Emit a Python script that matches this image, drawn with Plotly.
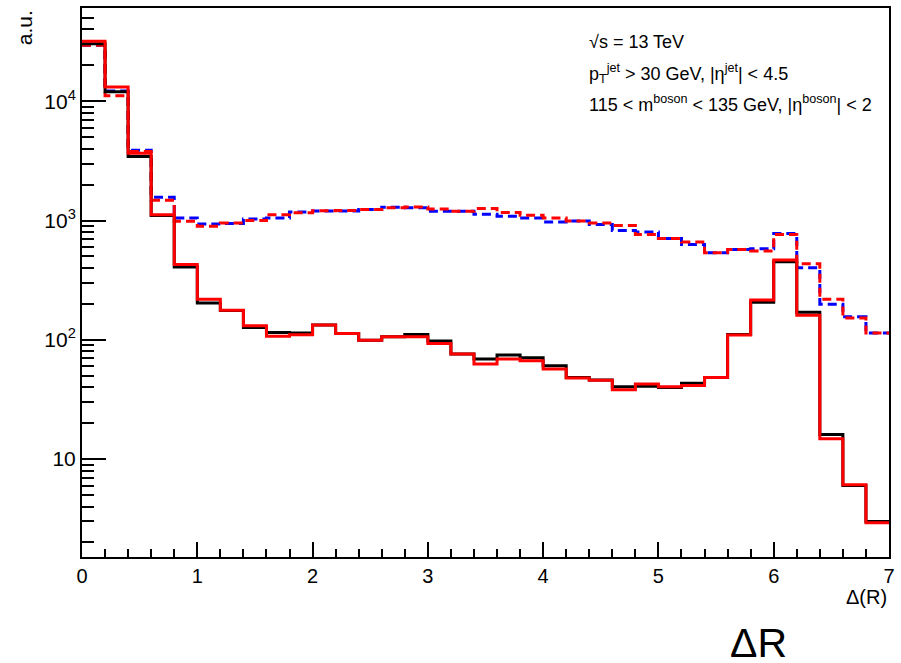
import plotly.graph_objects as go

# Bin edges (35 bins of width 0.2 from 0 to 7)
bin_edges = [round(0.2 * i, 1) for i in range(36)]

black_solid = [30300, 12000, 3440, 1100, 408, 204, 176, 127, 115, 114,
               133, 113, 99, 106, 111, 97.5, 76, 69, 74.5, 70.8,
               60.6, 48.4, 46, 40.5, 40.8, 39.8, 43.2, 48.4, 111, 206,
               451, 170, 16.1, 6.0, 3.0]
red_solid = [31900, 13200, 3670, 1120, 429, 219, 177, 131, 107, 110,
             133, 113, 99, 106, 106, 93, 76, 62.6, 69, 66.8,
             56.9, 47.9, 45.7, 38.2, 42.7, 40.5, 41.3, 48.4, 109.5, 216,
             466, 161, 14.8, 6.1, 2.92]
blue_dashed = [29500, 12200, 3890, 1570, 1052, 937, 945, 1030, 1050, 1180,
               1200, 1200, 1240, 1290, 1280, 1197, 1197, 1130, 1087, 1052,
               973, 990, 925, 825, 803, 708, 631, 537, 573, 580,
               778, 402, 199, 156, 114]
red_dashed = [29500, 11100, 3800, 1480, 986, 896, 955, 1000, 1120, 1160,
              1210, 1215, 1240, 1280, 1300, 1250, 1197, 1260, 1166, 1107,
              1052, 993, 953, 908, 764, 708, 660, 537, 573, 555,
              764, 434, 219, 152, 114]

x_ticks = [0, 1, 2, 3, 4, 5, 6, 7]
x_minor = [round(0.2 * i, 1) for i in range(36)]
y_ticks = [10, 100, 1000, 10000]
y_ticktext = ["10", "10<sup>2</sup>", "10<sup>3</sup>", "10<sup>4</sup>"]
y_minor = [k * 10 ** p for p in range(0, 5) for k in range(2, 10)]

FONT = "Liberation Sans, Arial, Helvetica, sans-serif"


def step(vals):
    return list(vals) + [vals[-1]]


fig = go.Figure()
series = [
    (blue_dashed, "#0000ff", "9px,5px"),
    (red_dashed, "#ff0000", "9px,5px"),
    (black_solid, "#000000", "solid"),
    (red_solid, "#ff0000", "solid"),
]
for vals, col, dash in series:
    fig.add_trace(go.Scatter(
        x=bin_edges, y=step(vals), mode="lines", line_shape="hv",
        line=dict(color=col, width=3, dash=dash), showlegend=False,
        hoverinfo="skip"))

fig.update_layout(
    width=901, height=663,
    margin=dict(l=82, r=10, t=6, b=106),
    paper_bgcolor="white", plot_bgcolor="white",
    font=dict(family=FONT, color="black", size=20),
    xaxis=dict(
        range=[0, 7], showgrid=False, zeroline=False,
        showline=True, linecolor="black", linewidth=2, mirror=True,
        tickmode="array", tickvals=x_ticks, ticks="inside", ticklen=15,
        tickwidth=1.5, tickcolor="black", tickfont=dict(size=20),
        minor=dict(tickmode="array", tickvals=x_minor, ticks="inside",
                   ticklen=8, tickwidth=1.5, tickcolor="black", showgrid=False),
    ),
    yaxis=dict(
        type="log", range=[0.179, 4.782], showgrid=False, zeroline=False,
        showline=True, linecolor="black", linewidth=2, mirror=True,
        tickmode="array", tickvals=y_ticks, ticktext=y_ticktext,
        ticks="inside", ticklen=24, tickwidth=1.5, tickcolor="black",
        tickfont=dict(size=21),
        minor=dict(tickmode="array", tickvals=y_minor, ticks="inside",
                   ticklen=12, tickwidth=1.5, tickcolor="black", showgrid=False),
    ),
)

fig.add_annotation(text="a.u.", xref="paper", yref="paper",
                   x=-0.071, y=1.0, xanchor="center", yanchor="top",
                   textangle=-90, showarrow=False, font=dict(size=21))
fig.add_annotation(text="Δ(R)", xref="paper", yref="paper",
                   x=1.0, y=-0.05, xanchor="right", yanchor="top",
                   showarrow=False, font=dict(size=20))
fig.add_annotation(text="ΔR", xref="paper", yref="paper",
                   x=0.838, y=-0.112, xanchor="center", yanchor="top",
                   showarrow=False, font=dict(size=41))

info_lines = [
    "√s = 13 TeV",
    "p<sub>T</sub><sup>jet</sup> > 30 GeV, |η<sup>jet</sup>| < 4.5",
    "115 < m<sup>boson</sup> < 135 GeV, |η<sup>boson</sup>| < 2",
]
info_y = [40, 72, 102]
for txt, yy in zip(info_lines, info_y):
    fig.add_annotation(text=txt, xref="paper", yref="paper",
                       x=(588 - 82) / 809, y=1 - (yy - 6) / 551,
                       xanchor="left", yanchor="middle", showarrow=False,
                       font=dict(size=18))

fig.write_html("out.html",
               config={"displayModeBar": False},
               post_script="document.body.style.margin='0';"
                           "document.body.style.overflow='hidden';")
